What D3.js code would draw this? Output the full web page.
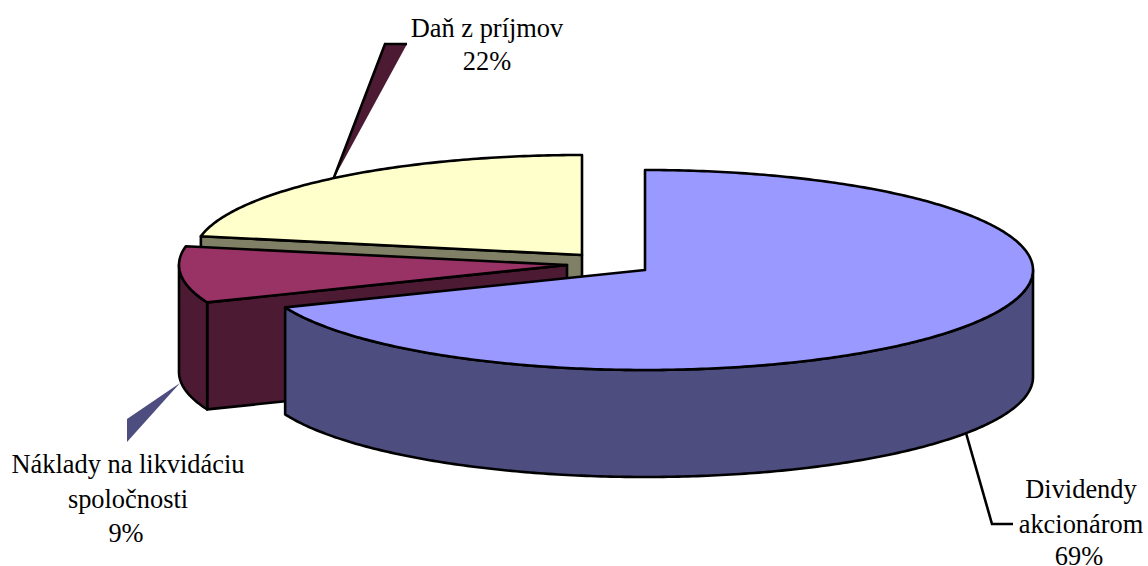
<!DOCTYPE html>
<html>
<head>
<meta charset="utf-8">
<script src="https://cdn.jsdelivr.net/npm/d3@7"></script>
<style>
  body { margin: 0; background: #fff; }
  text { font-family: "Liberation Serif", serif; font-size: 26.4px; fill: #000; text-anchor: middle; }
</style>
</head>
<body>
<div id="chart"></div>
<script>
const categories = ["Dividendy akcionárom", "Náklady na likvidáciu spoločnosti", "Daň z príjmov"];
const shares = [68.9, 9.1, 22];
const topColors = ["#9999ff", "#993366", "#ffffcc"];
const wallColors = ["#4d4d80", "#4d1a33", "#808066"];

// exploded slice centres on the page
const centers = [[645, 270], [567, 265], [582, 255]];
const labelLines = [
  [["Dividendy", 1081, 498], ["akcionárom", 1081, 533], ["69%", 1079, 565]],
  [["Náklady na likvidáciu", 128, 473], ["spoločnosti", 128, 508], ["9%", 126, 542]],
  [["Daň z príjmov", 487, 37], ["22%", 487, 70]]
];

const width = 1148, height = 566;
const rx = 388, ry = 100, depth = 107;

const svg = d3.select("#chart").append("svg")
  .attr("width", width)
  .attr("height", height)
  .style("display", "block");

const arcs = d3.pie().sort(null)(shares);
const line = d3.line();

// maps sin/cos of the pie angle onto the tilted ellipse of one slice
function scalesFor(c) {
  return {
    x: d3.scaleLinear().domain([-1, 1]).range([c[0] - rx, c[0] + rx]),
    y: d3.scaleLinear().domain([-1, 1]).range([c[1] + ry, c[1] - ry])
  };
}

function rim(c, a0, a1, dy) {
  const s = scalesFor(c);
  const n = Math.max(2, Math.ceil((a1 - a0) * 80));
  return d3.range(n + 1).map(i => {
    const a = a0 + (a1 - a0) * i / n;
    return [s.x(Math.sin(a)), s.y(Math.cos(a)) + dy];
  });
}

function drawPoly(pts, fill) {
  svg.append("path")
    .attr("d", line(pts) + "Z")
    .attr("fill", fill)
    .attr("stroke", "#000")
    .attr("stroke-width", 2.6)
    .attr("stroke-linejoin", "round");
}

// leader shapes sit behind the pie
svg.append("path")
  .attr("d", line([[333, 180], [385, 44], [407, 44]]) + "Z")
  .attr("fill", wallColors[1]);
svg.append("path")
  .attr("d", line([[333, 180], [385, 44], [407, 44]]))
  .attr("fill", "none").attr("stroke", "#000").attr("stroke-width", 2.6);
svg.append("path")
  .attr("d", line([[180, 383], [127, 419], [127, 442]]) + "Z")
  .attr("fill", wallColors[0]);
svg.append("path")
  .attr("d", line([[966, 433], [992, 524], [1013, 524]]))
  .attr("fill", "none").attr("stroke", "#000").attr("stroke-width", 2.6);

// back to front: tax, liquidation costs, dividends
[2, 1, 0].forEach(i => {
  const c = centers[i], a = arcs[i];

  // cut face on the start of the slice, pushed down by the depth
  if (i !== 0) {
    const p = rim(c, a.startAngle, a.startAngle, 0)[0];
    drawPoly([c, p, [p[0], p[1] + depth], [c[0], c[1] + depth]], wallColors[i]);
  }

  // outer wall, only the part on the front half of the ellipse
  const w0 = Math.max(a.startAngle, Math.PI / 2);
  const w1 = Math.min(a.endAngle, 3 * Math.PI / 2);
  if (w1 > w0) {
    drawPoly(rim(c, w0, w1, 0).concat(rim(c, w0, w1, depth).reverse()), wallColors[i]);
  }

  // top face
  drawPoly([c].concat(rim(c, a.startAngle, a.endAngle, 0)), topColors[i]);
});

labelLines.forEach((lines, i) => {
  svg.append("g").attr("class", "label").attr("aria-label", categories[i])
    .selectAll("text").data(lines).enter().append("text")
    .attr("x", d => d[1])
    .attr("y", d => d[2])
    .text(d => d[0]);
});
</script>
</body>
</html>
